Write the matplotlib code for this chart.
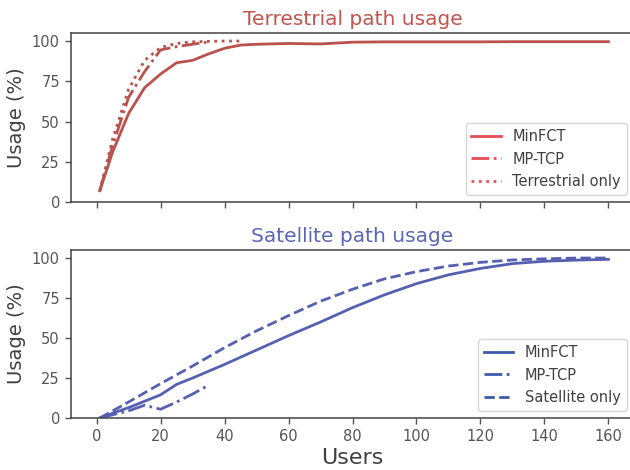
import matplotlib
matplotlib.use("Agg")
import matplotlib.pyplot as plt
from matplotlib.lines import Line2D

# ---- data ----
users_minfct_terr = [1, 5, 10, 15, 20, 25, 30, 35, 40, 45, 50, 60, 70, 80, 90, 100, 110, 120, 130, 140, 150, 160]
minfct_terr = [7, 31, 55, 71, 79.5, 86.5, 88, 92, 95.5, 97.5, 98, 98.5, 98.2, 99.3, 99.5, 99.5, 99.5, 99.5, 99.6, 99.6, 99.6, 99.6]
users_mptcp_terr = [1, 5, 10, 15, 20, 25, 30, 35]
mptcp_terr = [7, 35, 65, 81, 94.5, 96.5, 98, 99.5]
users_terr_only = [1, 5, 10, 15, 20, 25, 30, 35, 40, 45]
terr_only = [7, 39, 70, 88, 96, 98.5, 99.5, 99.8, 100, 100]

users_minfct_sat = [1, 5, 10, 15, 20, 25, 30, 40, 50, 60, 70, 80, 90, 100, 110, 120, 130, 140, 150, 160]
minfct_sat = [0, 3, 6.5, 10.5, 14.5, 21, 25, 33.5, 42.5, 51.5, 60, 69, 77, 84, 89.5, 93.5, 96.5, 98, 98.7, 99.2]
users_mptcp_sat = [1, 5, 10, 15, 20, 25, 30, 35]
mptcp_sat = [0, 2, 4.5, 8, 5.5, 10, 15, 20.5]
users_sat_only = [1, 10, 20, 30, 40, 50, 60, 70, 80, 90, 100, 110, 120, 130, 140, 150, 160]
sat_only = [0, 10, 21.5, 32.5, 44, 54.5, 64, 73, 80.5, 87, 91.5, 95, 97.3, 98.8, 99.5, 100, 100]

xticks = [0, 20, 40, 60, 80, 100, 120, 140, 160]
yticks = [0, 25, 50, 75, 100]

# ---- style ----
RED_LINE = "#b9524c"
RED_TITLE = "#c0554f"
RED_LEG = "#e64c55"
BLUE_LINE = "#5660b0"
BLUE_TITLE = "#5a66b6"
BLUE_LEG = "#3d59aa"
TXT = "#404040"

plt.rcParams["font.family"] = ["DejaVu Sans"]

fig = plt.figure(figsize=(6.3, 4.7), dpi=100)
ax1 = fig.add_axes([0.1127, 0.5702, 0.8937, 0.3596])
ax2 = fig.add_axes([0.1127, 0.1106, 0.8937, 0.3574])

lw = 2.0
ax1.plot(users_minfct_terr, minfct_terr, color=RED_LINE, lw=lw, ls="-")
ax1.plot(users_mptcp_terr, mptcp_terr, color=RED_LINE, lw=lw, ls="-.")
ax1.plot(users_terr_only, terr_only, color=RED_LINE, lw=lw, ls=":")

ax2.plot(users_minfct_sat, minfct_sat, color=BLUE_LINE, lw=lw, ls="-")
ax2.plot(users_mptcp_sat, mptcp_sat, color=BLUE_LINE, lw=lw, ls="-.")
ax2.plot(users_sat_only, sat_only, color=BLUE_LINE, lw=lw, ls="--")

h1 = [Line2D([], [], color=RED_LEG, lw=lw, ls=s) for s in ["-", "-.", ":"]]
h2 = [Line2D([], [], color=BLUE_LEG, lw=lw, ls=s) for s in ["-", "-.", "--"]]
leg1 = ax1.legend(h1, ["MinFCT", "MP-TCP", "Terrestrial only"], loc="lower right",
                  fontsize=10.5, handlelength=2.0, labelcolor=TXT)
leg2 = ax2.legend(h2, ["MinFCT", "MP-TCP", "Satellite only"], loc="lower right",
                  fontsize=10.5, handlelength=2.0, labelcolor=TXT)

ax1.set_title("Terrestrial path usage", color=RED_TITLE, fontsize=14.5, pad=6)
ax2.set_title("Satellite path usage", color=BLUE_TITLE, fontsize=14.5, pad=6)

for ax in (ax1, ax2):
    ax.set_xlim(-8, 168)
    ax.set_ylim(0, 105)
    ax.set_xticks(xticks)
    ax.set_yticks(yticks)
    ax.set_ylabel("Usage (%)", fontsize=14, color=TXT)
    ax.tick_params(axis="both", direction="out", length=4.5, width=1,
                   color="#555555", labelcolor="#555555", labelsize=10.5)
    for side in ("left", "bottom", "top"):
        ax.spines[side].set_color("#444444")
        ax.spines[side].set_linewidth(1.1)
    ax.spines["right"].set_visible(False)

ax1.set_xticklabels([])
ax2.set_xlabel("Users", fontsize=16, color=TXT, labelpad=3)

fig.savefig("out.png", dpi=100)
